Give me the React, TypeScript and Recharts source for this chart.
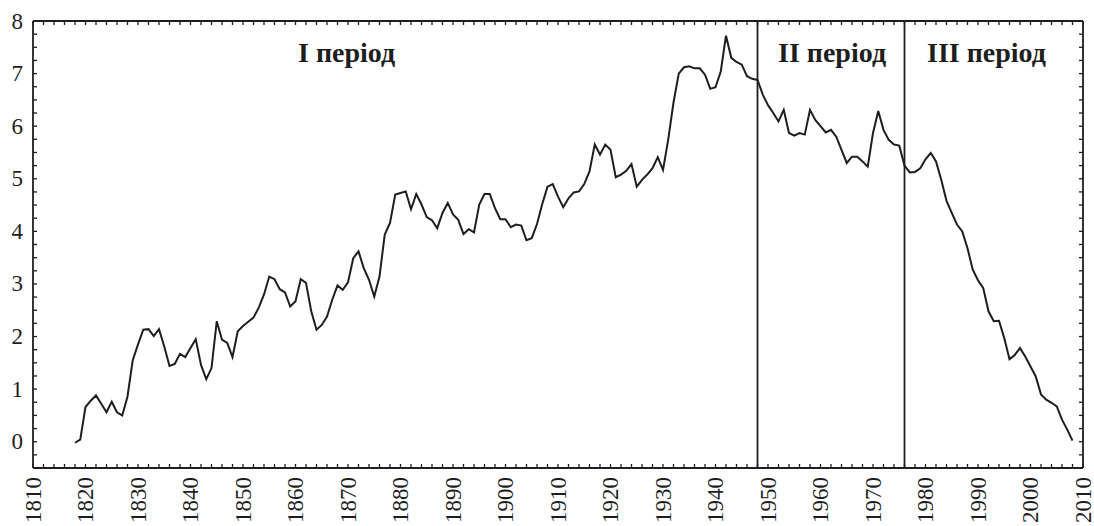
import React from 'react';
import { LineChart, Line, XAxis, YAxis, ReferenceLine } from 'recharts';

// annual series, 1818..2008
const firstYear = 1818;
const values = [
  -0.02, 0.04, 0.66, 0.78, 0.88, 0.72, 0.56, 0.76, 0.56, 0.5,
  0.86, 1.55, 1.85, 2.13, 2.14, 2.01, 2.14, 1.81, 1.44, 1.48,
  1.67, 1.61, 1.78, 1.95, 1.46, 1.19, 1.4, 2.29, 1.94, 1.88,
  1.61, 2.1, 2.2, 2.28, 2.36, 2.55, 2.8, 3.14, 3.09, 2.9,
  2.84, 2.57, 2.67, 3.09, 3.02, 2.48, 2.13, 2.22, 2.38, 2.7,
  2.97, 2.89, 3.03, 3.49, 3.62, 3.3, 3.08, 2.76, 3.14, 3.94,
  4.16, 4.7, 4.73, 4.76, 4.42, 4.71, 4.51, 4.27, 4.21, 4.06,
  4.35, 4.54, 4.32, 4.22, 3.95, 4.04, 3.98, 4.51, 4.71, 4.71,
  4.44, 4.23, 4.23, 4.08, 4.13, 4.11, 3.83, 3.87, 4.14, 4.52,
  4.85, 4.9, 4.66, 4.46, 4.63, 4.74, 4.76, 4.9, 5.14, 5.65,
  5.46, 5.65, 5.55, 5.03, 5.08, 5.15, 5.28, 4.85, 4.98, 5.08,
  5.2, 5.41, 5.17, 5.75, 6.45, 7.0, 7.12, 7.14, 7.1, 7.1,
  6.98, 6.71, 6.74, 7.04, 7.72, 7.3, 7.22, 7.17, 6.95, 6.9,
  6.88, 6.6, 6.4, 6.25, 6.09, 6.31, 5.87, 5.82, 5.87, 5.84,
  6.31, 6.12, 6.0, 5.88, 5.93, 5.8, 5.55, 5.3, 5.42, 5.42,
  5.33, 5.23, 5.87, 6.29, 5.93, 5.74, 5.65, 5.63, 5.25, 5.12,
  5.13, 5.2, 5.37, 5.49, 5.33, 4.98, 4.58, 4.35, 4.13, 4.0,
  3.68, 3.27, 3.07, 2.92, 2.48, 2.29, 2.3, 1.97, 1.57, 1.65,
  1.78, 1.62, 1.43, 1.24, 0.9, 0.8, 0.74, 0.67, 0.42, 0.23,
  0.02,
];

const yearLabels = [1810, 1820, 1830, 1840, 1850, 1860, 1870, 1880, 1890, 1900, 1910,
  1920, 1930, 1940, 1950, 1960, 1970, 1980, 1990, 2000, 2010];
const valueLabels = [0, 1, 2, 3, 4, 5, 6, 7, 8];
const periodBreaks = [1948, 1976];
const periodNames = ['I період', 'II період', 'III період'];

const data = values.map((v, i) => ({ year: firstYear + i, v }));

const xMinor: number[] = [];
for (let y = 1810; y <= 2010; y += 2) xMinor.push(y);
const yMinor: number[] = [];
for (let y = -0.5; y <= 8.001; y += 0.25) yMinor.push(Math.round(y * 100) / 100);

const INK = '#1e1e1e';
const FONT = '"Liberation Serif", "Times New Roman", serif';

const BottomTick = (props: any) => {
  const { x, y, payload } = props;
  const v = payload.value;
  return (
    <g>
      <line x1={x} x2={x} y1={y} y2={y - 4} stroke={INK} strokeWidth={1.3} />
      {yearLabels.includes(v) && (
        <text
          transform={`translate(${x},${y + 9}) rotate(-90)`}
          textAnchor="end"
          dominantBaseline="central"
          fontFamily={FONT}
          fontSize={23}
          fill={INK}
        >
          {v}
        </text>
      )}
    </g>
  );
};

const TopTick = (props: any) => {
  const { x, y } = props;
  return <line x1={x} x2={x} y1={y} y2={y + 4} stroke={INK} strokeWidth={1.3} />;
};

const LeftTick = (props: any) => {
  const { x, y, payload } = props;
  const v = payload.value;
  return (
    <g>
      <line x1={x} x2={x + 4} y1={y} y2={y} stroke={INK} strokeWidth={1.3} />
      {valueLabels.includes(v) && (
        <text x={x - 10} y={y} textAnchor="end" dominantBaseline="central"
          fontFamily={FONT} fontSize={23} fill={INK}>
          {v}
        </text>
      )}
    </g>
  );
};

const RightTick = (props: any) => {
  const { x, y } = props;
  return <line x1={x} x2={x - 4} y1={y} y2={y} stroke={INK} strokeWidth={1.3} />;
};

export default function App() {
  const axisLine = { stroke: INK, strokeWidth: 1.8 };
  return (
    <div style={{ position: 'absolute', left: 0, top: 0, width: 1094, height: 526, background: '#fff' }}>
      <LineChart width={1094} height={526} data={data} margin={{ top: 20, right: 10, bottom: 0, left: 3 }}>
        <XAxis xAxisId="b" dataKey="year" type="number" domain={[1810, 2010]} ticks={xMinor} interval={0}
          height={58} tickSize={0} tickMargin={0} tickLine={false} axisLine={axisLine} tick={<BottomTick />} />
        <XAxis xAxisId="t" orientation="top" dataKey="year" type="number" domain={[1810, 2010]} ticks={xMinor}
          interval={0} height={1} tickSize={0} tickMargin={0} tickLine={false} axisLine={axisLine} tick={<TopTick />} />
        <YAxis yAxisId="l" type="number" domain={[-0.5, 8]} ticks={yMinor} interval={0} width={30}
          tickSize={0} tickMargin={0} tickLine={false} axisLine={axisLine} tick={<LeftTick />} />
        <YAxis yAxisId="r" orientation="right" type="number" domain={[-0.5, 8]} ticks={yMinor} interval={0}
          width={1} tickSize={0} tickMargin={0} tickLine={false} axisLine={axisLine} tick={<RightTick />} />
        {periodBreaks.map((b) => (
          <ReferenceLine key={b} xAxisId="b" yAxisId="l" x={b} stroke={INK} strokeWidth={1.8} />
        ))}
        {/* invisible series so the top/right frame axes get drawn */}
        <Line xAxisId="t" yAxisId="r" type="linear" dataKey="v" stroke="none" dot={false}
          activeDot={false} isAnimationActive={false} />
        <Line xAxisId="b" yAxisId="l" type="linear" dataKey="v" stroke={INK} strokeWidth={2}
          dot={false} isAnimationActive={false} />
      </LineChart>
      <svg width={1094} height={526} style={{ position: 'absolute', left: 0, top: 0, pointerEvents: 'none' }}>
        {[298, 778, 927].map((x, i) => (
          <text key={i} x={x} y={62} fontFamily={FONT} fontWeight="bold" fontSize={28} fill={INK}>
            {periodNames[i]}
          </text>
        ))}
      </svg>
    </div>
  );
}
